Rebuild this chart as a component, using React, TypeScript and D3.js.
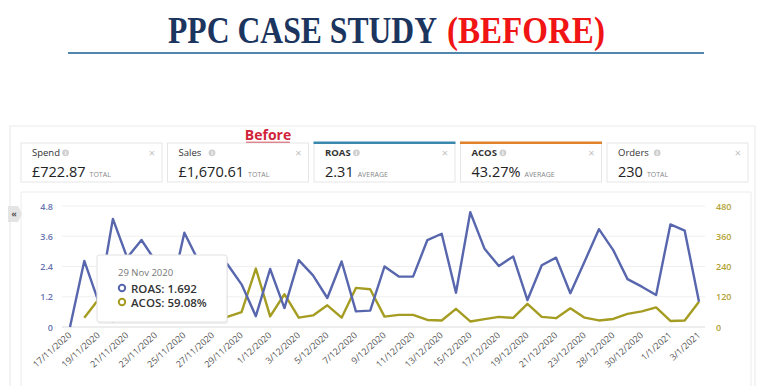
import * as d3 from "d3";

// chart data
const dates = [
  "17/11/2020", "18/11/2020", "19/11/2020", "20/11/2020", "21/11/2020", "22/11/2020",
  "23/11/2020", "24/11/2020", "25/11/2020", "26/11/2020", "27/11/2020", "28/11/2020",
  "29/11/2020", "30/11/2020", "1/12/2020", "2/12/2020", "3/12/2020", "4/12/2020",
  "5/12/2020", "6/12/2020", "7/12/2020", "8/12/2020", "9/12/2020", "10/12/2020",
  "11/12/2020", "12/12/2020", "13/12/2020", "14/12/2020", "15/12/2020", "16/12/2020",
  "17/12/2020", "18/12/2020", "19/12/2020", "20/12/2020", "21/12/2020", "22/12/2020",
  "23/12/2020", "24/12/2020", "28/12/2020", "29/12/2020", "30/12/2020", "31/12/2020",
  "1/1/2021", "2/1/2021", "3/1/2021",
];
const roas = [
  0, 2.62, 1.0, 4.29, 2.75, 3.45, 2.6, 1.2, 3.74, 2.6, 2.8, 2.5, 1.692, 0.43, 2.3,
  0.75, 2.65, 2.05, 1.15, 2.6, 0.62, 0.65, 2.4, 2.0, 2.0, 3.45, 3.7, 1.36, 4.55, 3.1,
  2.42, 2.8, 1.07, 2.45, 2.75, 1.34, 2.6, 3.88, 3.05, 1.9, 1.6, 1.27, 4.07, 3.82, 1.0,
];
const acos: (number | null)[] = [
  null, 37, 110, 23, 36, 29, 38, 83, 27, 38, 36, 40, 59.08, 232, 42, 130, 37, 46, 86,
  37, 155, 150, 41, 48, 48, 28, 26, 72, 22, 31, 40, 36, 92, 40, 35, 74, 37, 26, 32, 52,
  62, 78, 24, 26, 100,
];
const leftTicks = [0, 1.2, 2.4, 3.6, 4.8];
const rightTicks = [0, 120, 240, 360, 480];

// metric cards
const cardLabels = ["Spend", "Sales", "ROAS", "ACOS", "Orders"];
const cardValues = ["£722.87", "£1,670.61", "2.31", "43.27%", "230"];
const cardUnits = ["TOTAL", "TOTAL", "AVERAGE", "AVERAGE", "TOTAL"];
const cardAccents = [null, null, "#3b88ae", "#e2812c", null];

const tooltipDate = "29 Nov 2020";

const ROAS_COLOR = "#5867ad";
const ACOS_COLOR = "#a59c22";
const FONT = "'Open Sans', sans-serif";

const App = () => {
  const width = 768;
  const height = 386;

  const x = d3.scalePoint<string>().domain(dates).range([70, 699]);
  const yL = d3.scaleLinear().domain([0, 4.8]).range([327, 206]);
  const yR = d3.scaleLinear().domain([0, 480]).range([327, 206]);

  const roasLine = d3
    .line<number>()
    .x((_, i) => x(dates[i])!)
    .y((d) => yL(d));
  const acosLine = d3
    .line<number | null>()
    .defined((d) => d != null)
    .x((_, i) => x(dates[i])!)
    .y((d) => yR(d as number));

  const tickDates = dates.filter((_, i) => i % 2 === 0);

  const cardW = 141;
  const cardGap = 5.5;
  const cardX0 = 21;

  const hoverIdx = dates.indexOf("29/11/2020");

  return (
    <svg
      width={width}
      height={height}
      style={{ position: "absolute", left: 0, top: 0, background: "#fff" }}
    >
      {/* title, squeezed to look condensed */}
      <text
        transform="translate(168,43) scale(0.833,1)"
        fontFamily="'Liberation Serif', serif"
        fontWeight="bold"
        fontSize={38}
        fill="#1b355e"
      >
        PPC CASE STUDY
      </text>
      <text
        transform="translate(447,43) scale(0.87,1)"
        fontFamily="'Liberation Serif', serif"
        fontWeight="bold"
        fontSize={38}
        fill="#f01414"
      >
        (BEFORE)
      </text>
      <line x1={68} x2={704} y1={53} y2={53} stroke="#4f86ad" strokeWidth={2} />

      {/* outer panel */}
      <path d="M10,386 V126 H755 V386" fill="none" stroke="#ececec" strokeWidth={1.2} />

      {/* Before label */}
      <text
        x={268}
        y={140}
        textAnchor="middle"
        fontFamily={FONT}
        fontWeight="bold"
        fontSize={14}
        fill="#d1243a"
      >
        Before
      </text>
      <line x1={246} x2={290} y1={142.5} y2={142.5} stroke="#d1243a" strokeWidth={1.5} />

      {/* cards */}
      {cardLabels.map((label, i) => {
        const cx = cardX0 + i * (cardW + cardGap);
        const accent = cardAccents[i];
        const bold = accent != null;
        const labelW = label.length * (bold ? 6.6 : 5.7);
        return (
          <g key={label} transform={`translate(${cx},143)`}>
            <rect width={cardW} height={39} fill="#fff" stroke="#e6e6e6" strokeWidth={1} />
            {accent && <rect x={-0.5} y={-1.5} width={cardW + 1} height={2.5} fill={accent} />}
            <text
              x={11}
              y={13}
              fontFamily={FONT}
              fontSize={9.5}
              fontWeight={bold ? "bold" : "normal"}
              fill="#333"
            >
              {label}
            </text>
            <circle cx={11 + labelW + 5} cy={9.8} r={3.4} fill="#cfcfcf" />
            <text
              x={11 + labelW + 5}
              y={12}
              textAnchor="middle"
              fontFamily={FONT}
              fontSize={5.5}
              fontWeight="bold"
              fill="#fff"
            >
              i
            </text>
            <text
              x={cardW - 10}
              y={14}
              textAnchor="middle"
              fontFamily={FONT}
              fontSize={11}
              fill="#c2c2c2"
            >
              ×
            </text>
            <text x={11} y={34} fontFamily={FONT} fontSize={14.5} fill="#222">
              {cardValues[i]}
              <tspan dx={4} fontSize={7} fill="#888">
                {cardUnits[i]}
              </tspan>
            </text>
          </g>
        );
      })}

      {/* chart card */}
      <path d="M21,386 V192 H751 V386" fill="none" stroke="#ececec" strokeWidth={1} />

      {/* collapse tab */}
      <path d="M8,206 H18 L22,214 L18,222 H8 Z" fill="#e4e4e4" />
      <text x={14} y={217} textAnchor="middle" fontFamily={FONT} fontSize={9} fontWeight="bold" fill="#555">
        «
      </text>

      {/* gridlines */}
      {leftTicks.map((t) => (
        <line key={t} x1={62} x2={705} y1={yL(t)} y2={yL(t)} stroke={t === 0 ? "#dcdcdc" : "#efefef"} strokeWidth={1} />
      ))}

      {/* left axis */}
      {leftTicks.map((t) => (
        <text
          key={t}
          x={53}
          y={yL(t) + 3.5}
          textAnchor="end"
          fontFamily={FONT}
          fontSize={9}
          fontWeight="600"
          fill="#6873b0"
        >
          {t}
        </text>
      ))}
      {/* right axis */}
      {rightTicks.map((t) => (
        <text
          key={t}
          x={716}
          y={yR(t) + 3.5}
          fontFamily={FONT}
          fontSize={9}
          fontWeight="600"
          fill="#b3a236"
        >
          {t}
        </text>
      ))}

      {/* x axis labels */}
      {tickDates.map((d) => (
        <text
          key={d}
          transform={`translate(${x(d)! + 2},${336}) rotate(-42)`}
          textAnchor="end"
          fontFamily={FONT}
          fontSize={9}
          fill="#555"
        >
          {d}
        </text>
      ))}

      {/* series */}
      <path d={acosLine(acos) ?? ""} fill="none" stroke={ACOS_COLOR} strokeWidth={2.4} strokeLinejoin="round" />
      <path d={roasLine(roas) ?? ""} fill="none" stroke={ROAS_COLOR} strokeWidth={2.4} strokeLinejoin="round" />

      {/* tooltip */}
      <g transform="translate(97,255)">
        <rect x={1} y={2} width={130} height={67} fill="#000" opacity={0.06} rx={2} />
        <rect width={130} height={67} fill="#fff" stroke="#e2e2e2" rx={2} />
        <text x={21} y={21} fontFamily={FONT} fontSize={9.5} fill="#777">
          {tooltipDate}
        </text>
        <circle cx={25} cy={33} r={3.2} fill="none" stroke={ROAS_COLOR} strokeWidth={2} />
        <text x={34} y={37.5} fontFamily={FONT} fontSize={11.5} fontWeight="600" fill="#333">
          ROAS: {d3.format(".3f")(roas[hoverIdx])}
        </text>
        <circle cx={25} cy={47} r={3.2} fill="none" stroke={ACOS_COLOR} strokeWidth={2} />
        <text x={34} y={51.5} fontFamily={FONT} fontSize={11.5} fontWeight="600" fill="#333">
          ACOS: {d3.format(".2f")(acos[hoverIdx] as number)}%
        </text>
      </g>
    </svg>
  );
};

export default App;
